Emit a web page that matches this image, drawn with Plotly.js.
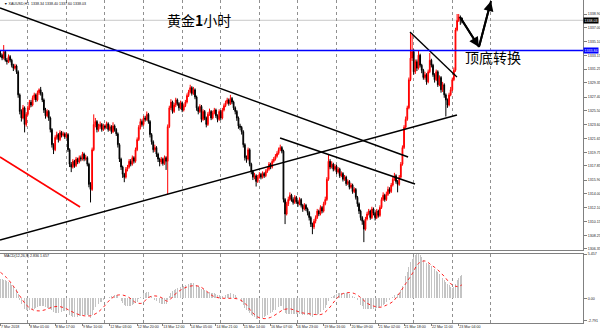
<!DOCTYPE html>
<html><head><meta charset="utf-8">
<script src="https://cdn.plot.ly/plotly-3.0.1.min.js"></script>
<style>html,body{margin:0;padding:0;background:#fff}#chart{width:600px;height:333px}</style>
</head><body><div id="chart"></div>
<script>
// ---- XAUUSD H1 candles (bar 0 = 7 Mar 07:00, one bar per hour) ----
const firstOpen = 1333.5;
const closes = [
1333.2,1332.8,1333.7,1332.5,1332.3,1333.0,1332.5,1331.8,1331.4,1331.7,
1330.9,1327.7,1325.4,1324.5,1325.9,1323.6,1325.0,1325.9,1326.7,1326.3,
1327.3,1327.7,1327.0,1328.0,1328.4,1327.9,1327.0,1325.6,1324.8,1325.4,
1324.5,1322.9,1320.8,1320.1,1321.8,1322.2,1321.5,1322.5,1322.1,1322.3,
1321.9,1322.2,1320.1,1318.1,1317.7,1318.5,1317.9,1318.8,1318.4,1319.0,
1318.8,1319.5,1318.8,1319.0,1318.1,1315.3,1314.6,1320.1,1323.6,1324.0,
1322.9,1323.3,1323.6,1322.9,1323.4,1323.2,1323.7,1322.9,1323.3,1322.6,
1323.4,1322.9,1322.3,1320.8,1318.8,1317.7,1316.7,1316.3,1317.4,1317.7,
1318.5,1318.1,1319.0,1318.5,1320.1,1321.5,1323.2,1324.0,1323.6,1324.5,
1324.3,1325.0,1324.0,1322.2,1321.2,1320.1,1320.4,1319.5,1318.8,1318.4,
1318.8,1318.2,1319.0,1318.5,1323.3,1325.9,1326.7,1325.4,1326.3,1327.0,
1326.5,1325.9,1326.6,1325.6,1326.2,1326.7,1327.6,1328.1,1328.7,1327.9,
1328.4,1327.4,1325.9,1325.4,1326.1,1324.3,1325.4,1324.5,1323.6,1325.0,
1325.4,1324.5,1325.2,1325.6,1324.8,1324.3,1325.4,1324.5,1325.6,1326.2,
1326.6,1327.0,1326.5,1327.2,1326.7,1325.9,1325.4,1324.5,1323.4,1323.2,
1322.6,1320.8,1319.0,1318.8,1320.1,1318.1,1317.1,1316.3,1316.5,1315.7,
1316.3,1316.7,1316.3,1316.8,1316.5,1317.1,1317.4,1318.1,1317.7,1318.5,
1318.8,1319.2,1319.6,1320.1,1320.4,1319.9,1313.2,1311.2,1312.6,1313.2,
1313.8,1313.2,1312.8,1313.5,1312.9,1312.6,1313.2,1312.4,1311.9,1312.4,
1311.9,1311.4,1310.7,1309.8,1309.4,1310.2,1310.7,1311.6,1311.2,1312.1,
1311.6,1312.6,1313.2,1316.0,1318.5,1317.7,1318.1,1317.4,1317.8,1317.0,
1317.4,1316.5,1316.8,1316.0,1316.3,1315.4,1315.7,1314.9,1315.2,1314.3,
1314.6,1313.5,1312.6,1311.6,1310.7,1310.2,1309.1,1310.5,1311.2,1311.6,
1310.7,1311.9,1311.3,1310.7,1311.6,1311.0,1312.1,1313.2,1313.8,1313.2,
1313.9,1314.6,1314.3,1315.2,1316.0,1316.5,1315.7,1315.3,1316.3,1318.1,
1320.4,1323.2,1324.3,1325.9,1329.8,1332.8,1333.7,1330.9,1332.3,1331.4,
1333.2,1331.8,1331.1,1330.1,1330.5,1329.5,1330.9,1332.5,1331.8,1330.5,
1329.8,1330.9,1329.1,1330.1,1328.4,1329.1,1327.7,1327.0,1326.3,1327.7,
1328.4,1329.8,1331.1,1336.7,1338.0,1338.5,1338.34,1338.03];
const highs = [
1333.9,1333.4,1334.6,1333.9,1332.8,1333.3,1333.2,1332.7,1332.0,1332.0,
1331.9,1331.1,1327.9,1325.7,1326.3,1326.1,1325.3,1326.2,1327.0,1327.0,
1327.6,1328.0,1327.9,1328.3,1328.6,1328.8,1328.1,1327.2,1325.9,1325.7,
1325.6,1324.7,1323.1,1321.0,1322.1,1322.6,1322.4,1322.8,1322.7,1322.6,
1322.5,1322.5,1322.4,1320.3,1318.4,1318.8,1318.7,1319.1,1319.0,1319.3,
1319.3,1319.8,1319.7,1319.4,1319.2,1318.3,1315.6,1320.4,1325.0,1324.5,
1324.2,1323.7,1324.0,1323.8,1323.7,1323.6,1324.0,1323.9,1323.6,1323.5,
1323.9,1323.6,1323.1,1322.5,1321.0,1319.0,1317.9,1316.9,1317.7,1318.0,
1318.8,1318.8,1319.3,1319.2,1320.4,1321.8,1323.5,1324.4,1324.3,1324.8,
1324.8,1325.4,1325.2,1324.2,1322.4,1321.4,1320.8,1320.6,1319.7,1319.0,
1319.1,1319.0,1319.3,1319.2,1323.6,1326.2,1327.1,1326.9,1326.6,1327.3,
1327.2,1326.7,1326.9,1326.8,1326.5,1327.0,1327.9,1328.4,1329.1,1328.9,
1328.8,1328.6,1327.6,1326.1,1326.4,1326.3,1325.7,1325.6,1324.7,1325.3,
1325.8,1325.6,1325.5,1325.9,1325.8,1325.0,1325.7,1325.6,1325.9,1326.5,
1326.9,1327.3,1327.2,1327.7,1327.4,1326.9,1326.1,1325.6,1324.7,1323.7,
1323.4,1322.8,1321.0,1319.3,1320.4,1320.3,1318.3,1317.3,1316.9,1316.7,
1316.6,1317.0,1316.9,1317.1,1317.0,1317.4,1317.7,1318.4,1318.3,1318.8,
1319.1,1319.5,1319.9,1320.4,1320.8,1320.6,1320.1,1313.4,1312.9,1313.6,
1314.2,1314.0,1313.5,1313.8,1313.7,1313.1,1313.5,1313.4,1312.6,1312.7,
1312.6,1312.1,1311.6,1310.9,1310.0,1310.5,1311.0,1311.9,1311.8,1312.4,
1312.3,1312.9,1313.6,1316.3,1319.5,1318.8,1318.5,1318.3,1318.1,1318.0,
1317.7,1317.6,1317.1,1317.0,1316.6,1316.5,1316.0,1315.9,1315.5,1315.4,
1314.9,1314.8,1313.7,1312.8,1311.8,1310.9,1310.4,1310.8,1311.5,1311.9,
1311.8,1312.2,1312.1,1311.5,1311.9,1311.8,1312.4,1313.5,1314.2,1314.0,
1314.3,1315.0,1314.9,1315.5,1316.4,1316.9,1316.7,1315.9,1316.6,1318.4,
1320.7,1323.5,1324.7,1326.2,1330.1,1336.3,1336.0,1334.0,1332.6,1332.6,
1333.9,1333.4,1332.0,1331.3,1330.9,1330.7,1331.2,1333.5,1332.7,1332.0,
1330.7,1331.2,1331.1,1330.4,1330.3,1329.5,1329.3,1327.9,1327.2,1328.0,
1328.8,1330.1,1331.5,1337.0,1338.9,1338.9,1338.7,1338.40];
const lows = [
1332.9,1332.5,1332.6,1332.3,1331.9,1332.1,1332.2,1331.5,1331.0,1331.2,
1330.6,1327.3,1325.0,1324.0,1324.3,1322.5,1323.3,1324.8,1325.6,1326.0,
1326.1,1327.0,1326.7,1326.8,1327.7,1327.6,1326.7,1325.2,1324.4,1324.6,
1324.1,1322.5,1320.4,1319.5,1319.9,1321.5,1321.1,1321.3,1321.8,1321.9,
1321.6,1321.7,1319.8,1317.7,1317.0,1317.5,1317.6,1317.7,1318.1,1318.2,
1318.5,1318.6,1318.5,1318.6,1317.8,1314.9,1312.8,1314.4,1319.9,1323.2,
1322.5,1322.6,1323.0,1322.6,1322.7,1322.9,1323.0,1322.6,1322.7,1322.3,
1322.4,1322.6,1322.0,1320.4,1318.4,1317.3,1316.2,1315.6,1316.1,1317.1,
1317.5,1317.8,1317.9,1318.2,1318.3,1319.9,1321.3,1322.9,1323.3,1323.4,
1324.0,1324.1,1323.7,1321.8,1320.8,1319.7,1319.8,1319.1,1318.4,1317.8,
1318.1,1317.9,1318.0,1317.3,1313.9,1323.1,1325.6,1325.1,1325.2,1326.0,
1326.2,1325.5,1325.7,1325.3,1325.4,1326.0,1326.5,1327.4,1327.9,1327.6,
1327.7,1327.1,1325.5,1325.0,1325.2,1323.9,1324.1,1324.2,1323.2,1323.4,
1324.8,1324.2,1324.3,1325.0,1324.5,1323.9,1324.1,1324.2,1324.3,1325.4,
1326.0,1326.4,1326.2,1326.3,1326.4,1325.6,1325.0,1324.1,1323.0,1322.8,
1322.2,1320.4,1318.6,1318.3,1318.6,1317.8,1316.7,1315.9,1316.0,1315.0,
1315.5,1316.1,1316.0,1316.1,1316.2,1316.3,1316.9,1317.2,1317.4,1317.5,
1318.3,1318.6,1319.0,1319.4,1319.9,1319.6,1312.8,1309.8,1311.0,1312.3,
1313.0,1312.9,1312.5,1312.6,1312.6,1312.2,1312.4,1312.1,1311.5,1311.7,
1311.6,1311.0,1310.3,1309.4,1308.4,1309.1,1309.9,1310.5,1310.9,1311.0,
1311.3,1311.4,1312.4,1313.0,1315.8,1317.4,1317.5,1317.1,1317.2,1316.7,
1316.8,1316.2,1316.3,1315.7,1315.8,1315.1,1315.2,1314.6,1314.7,1314.0,
1314.1,1313.2,1312.2,1311.2,1310.3,1309.7,1307.3,1308.9,1310.3,1311.0,
1310.4,1310.5,1311.0,1310.3,1310.5,1310.7,1310.8,1311.9,1313.0,1312.9,
1313.0,1313.7,1314.0,1314.1,1315.0,1315.8,1315.4,1314.2,1315.1,1316.1,
1317.9,1320.2,1323.0,1324.1,1325.7,1329.6,1332.4,1330.5,1330.6,1331.0,
1331.2,1331.5,1330.7,1329.8,1329.8,1329.1,1329.3,1330.7,1331.5,1330.2,
1329.4,1329.6,1328.8,1328.9,1328.0,1328.1,1327.3,1324.7,1325.9,1326.1,
1327.5,1328.2,1329.6,1330.9,1336.5,1337.8,1337.4,1337.60];

// ---- MACD(12,26,9): main (histogram) per bar, signal read every 4 bars ----
const macdMain = [
2.4,2.4,2.3,2.3,2.1,2.0,1.9,1.7,1.5,1.3,
1.1,0.5,-0.2,-0.7,-1.0,-1.3,-1.4,-1.5,-1.5,-1.5,
-1.4,-1.3,-1.2,-1.1,-1.0,-0.9,-0.9,-1.0,-1.1,-1.2,
-1.2,-1.3,-1.5,-1.7,-1.8,-1.8,-1.8,-1.7,-1.7,-1.6,
-1.6,-1.6,-1.8,-2.0,-2.2,-2.3,-2.3,-2.3,-2.3,-2.2,
-2.2,-2.1,-2.0,-2.0,-2.0,-2.2,-2.4,-2.0,-1.5,-1.1,
-0.9,-0.7,-0.5,-0.4,-0.2,-0.1,0.0,0.1,0.2,0.3,
0.4,0.4,0.4,0.3,0.0,-0.3,-0.6,-0.8,-0.9,-1.0,
-1.0,-0.9,-0.8,-0.7,-0.6,-0.4,-0.1,0.2,0.4,0.6,
0.7,0.8,0.8,0.6,0.3,0.0,-0.2,-0.3,-0.5,-0.6,
-0.7,-0.7,-0.7,-0.7,-0.2,0.3,0.7,0.9,1.0,1.2,
1.3,1.3,1.4,1.4,1.5,1.6,1.7,1.8,1.9,1.9,
1.9,1.8,1.6,1.5,1.4,1.2,1.1,1.0,0.8,0.8,
0.8,0.7,0.6,0.6,0.5,0.4,0.4,0.3,0.3,0.4,
0.4,0.5,0.5,0.6,0.6,0.5,0.4,0.2,0.0,-0.2,
-0.4,-0.8,-1.2,-1.5,-1.6,-1.8,-2.0,-2.2,-2.3,-2.5,
-2.5,-2.5,-2.5,-2.4,-2.3,-2.2,-2.1,-2.0,-1.8,-1.7,
-1.5,-1.4,-1.3,-1.1,-1.0,-1.0,-1.4,-1.8,-1.9,-1.9,
-1.9,-1.9,-1.9,-1.9,-1.9,-1.9,-1.9,-1.9,-2.0,-2.0,
-2.0,-2.0,-2.1,-2.2,-2.3,-2.2,-2.1,-2.0,-1.9,-1.7,
-1.6,-1.4,-1.2,-0.8,-0.3,0.0,0.2,0.3,0.4,0.5,
0.6,0.6,0.7,0.7,0.7,0.6,0.6,0.5,0.4,0.3,
0.2,0.0,-0.2,-0.5,-0.8,-1.0,-1.3,-1.3,-1.3,-1.3,
-1.3,-1.3,-1.3,-1.3,-1.2,-1.2,-1.1,-1.0,-0.8,-0.7,
-0.5,-0.3,-0.2,0.0,0.2,0.4,0.5,0.5,0.7,1.0,
1.5,2.1,2.7,3.3,3.9,4.5,4.9,5.1,5.3,5.4,
5.457,5.3,5.1,4.7,4.5,4.3,4.2,4.1,4.0,3.8,
3.6,3.4,3.2,3.0,2.8,2.5,2.3,2.0,1.8,1.6,
1.4,1.3,1.4,1.8,2.2,2.5,2.7,2.836];
const signalBars = [0,4,8,12,16,20,24,28,32,36,40,44,48,52,56,60,64,68,72,76,80,84,88,92,96,100,
104,108,112,116,120,124,128,132,136,140,144,148,152,156,160,164,168,172,176,180,184,188,192,196,200,
204,208,212,216,220,224,228,232,236,240,244,248,252,256,260,264,268,272,276,280,284,287];
const signalVals = [3.2,2.5,1.5,0.3,-0.8,-1.4,-1.55,-1.4,-1.1,-1.0,-1.2,-1.6,-1.95,-2.15,-2.15,-1.8,-1.1,-0.2,0.35,0.4,0.1,-0.5,-0.6,0.1,0.3,0.1,
-0.35,0.4,1.0,1.4,1.55,1.45,0.9,0.3,0.05,0.0,0.0,-0.1,-0.6,-1.6,-2.3,-2.5,-2.35,-1.9,-1.4,-1.3,-1.55,-1.8,-1.9,-2.0,-1.95,
-1.3,-0.3,0.5,0.7,0.6,0.1,-0.6,-0.95,-1.1,-0.85,-0.4,0.6,1.8,3.0,4.3,4.6,4.1,3.5,2.7,1.8,1.45,1.657];

// ---- axes: ticks and labels ----
const dayStartBars = [17,41,65,89,113,137,161,185,209,233,257,281,305];
const timeLabelBars = [0,18,34,51,68,85,101,118,134,151,168,184,201,218,235,251,268,285];
const timeLabels = ['7 Mar 2018','8 Mar 01:00','8 Mar 17:00','9 Mar 10:00','12 Mar 03:00','12 Mar 20:00',
'13 Mar 12:00','14 Mar 05:00','14 Mar 21:00','15 Mar 14:00','16 Mar 07:00','16 Mar 23:00',
'19 Mar 16:00','20 Mar 09:00','21 Mar 02:00','21 Mar 18:00','22 Mar 11:00','23 Mar 04:00'];
const priceTicks = [1338.90,1337.00,1335.10,1333.15,1331.25,1329.35,1327.40,1325.50,1323.60,1321.65,
1319.75,1317.85,1315.90,1314.00,1312.10,1310.15,1308.25,1306.35];
const macdTicks = [5.457,0,-2.791];
const macdTickText = ['5.457','0.00','-2.791'];

// ---- drawn objects (bar index, price) ----
const blueLevel = 1333.84;
const trendDownX = [-0.3,253.5], trendDownY = [1339.73,1319.09];
const trendUpX = [-0.3,283.9], trendUpY = [1307.60,1324.91];
const trendMidX = [173.9,257.8], trendMidY = [1321.73,1315.35];
const trendRedX = [-0.3,49.5], trendRedY = [1319.09,1312.17];
const trendTopX = [254.7,283.9], trendTopY = [1336.41,1330.17];
const arrowX = [285.8,297.6,305.1], arrowY = [1338.49,1334.33,1340.70];

const header = '\u25BC XAUUSD,H1  1338.34 1338.40 1337.60 1338.03';
const macdHeader = 'MACD(12,26,9) 2.836 1.657';
const titleText = '黄金<b>1</b>小时';
const noteText = '顶底转换';

const bars = closes.map((_, i) => i);
const opens = closes.map((c, i) => i === 0 ? firstOpen : closes[i - 1]);
const lastClose = closes[closes.length - 1];

const FONT = 'Liberation Sans, Arial, sans-serif';
const CJK = 'Noto Sans CJK SC, sans-serif';
const X_RANGE = [-0.3, 362.3];
const gridAxis = (anchor, extra) => Object.assign({domain:[0,1], anchor, range:X_RANGE, tickmode:'array',
  tickvals:dayStartBars, showticklabels:false, ticks:'', showgrid:true, gridcolor:'#909090', griddash:'dot',
  gridwidth:1, zeroline:false, showline:true, linecolor:'#808080', linewidth:1, fixedrange:true,
  rangeslider:{visible:false}}, extra);

const lineTrace = (x, y, color, w) => ({type:'scatter', mode:'lines', x, y, xaxis:'x', yaxis:'y',
  line:{color, width:w}, hoverinfo:'skip', showlegend:false, cliponaxis:true});

const traces = [
  {type:'candlestick', x:bars, open:opens, high:highs, low:lows, close:closes, xaxis:'x', yaxis:'y',
   increasing:{line:{color:'#ff0000', width:1}, fillcolor:'#ff0000'},
   decreasing:{line:{color:'#000000', width:1}, fillcolor:'#000000'},
   whiskerwidth:0, hoverinfo:'skip', showlegend:false},
  lineTrace(trendDownX, trendDownY, '#000', 1.6),
  lineTrace(trendUpX, trendUpY, '#000', 1.6),
  lineTrace(trendMidX, trendMidY, '#000', 1.6),
  lineTrace(trendTopX, trendTopY, '#000', 1.4),
  lineTrace(trendRedX, trendRedY, '#ff0000', 1.6),
  lineTrace(arrowX.slice(0,2), arrowY.slice(0,2), '#000', 2),
  lineTrace(arrowX.slice(1), arrowY.slice(1), '#000', 2),
  {type:'bar', x:bars, y:macdMain, xaxis:'x2', yaxis:'y2', marker:{color:'#c4c4c4', line:{width:0}},
   width:0.55, hoverinfo:'skip', showlegend:false},
  {type:'scatter', mode:'lines', x:signalBars, y:signalVals, xaxis:'x2', yaxis:'y2',
   line:{color:'#ff2020', width:1, dash:'dot', shape:'spline'}, hoverinfo:'skip', showlegend:false},
  // carrier for the time-label axis (no visible marks)
  {type:'scatter', mode:'markers', x:timeLabelBars, y:timeLabelBars.map(() => 0), xaxis:'x3', yaxis:'y2',
   marker:{opacity:0, size:1}, hoverinfo:'skip', showlegend:false}
];

const layout = {
  width:600, height:333, margin:{l:0, r:17, t:0, b:10},
  paper_bgcolor:'#ffffff', plot_bgcolor:'#ffffff', showlegend:false,
  font:{family:FONT, size:3.6, color:'#222'},
  bargap:0,
  xaxis: gridAxis('y', {}),
  xaxis2: gridAxis('y2', {matches:'x', mirror:true}),
  xaxis3:{domain:[0,1], anchor:'y2', overlaying:'x2', range:X_RANGE, side:'bottom', tickmode:'array',
    tickvals:timeLabelBars, ticktext:timeLabels, ticks:'outside', ticklen:2, tickcolor:'#808080',
    ticklabelposition:'outside right', tickangle:0, tickfont:{family:FONT, size:3.6, color:'#222'},
    showgrid:false, zeroline:false, showline:false, fixedrange:true},
  yaxis:{domain:[0.226,1], anchor:'x', side:'right', range:[1306.21,1340.84], tickmode:'array',
    tickvals:priceTicks, tickformat:'.2f', ticks:'outside', ticklen:3, tickcolor:'#808080',
    tickfont:{family:FONT, size:3.6, color:'#222'}, showgrid:false, zeroline:false,
    showline:true, mirror:true, linecolor:'#808080', linewidth:1, fixedrange:true},
  yaxis2:{domain:[0,0.2136], anchor:'x2', side:'right', range:[-3.04,5.457], tickmode:'array',
    tickvals:macdTicks, ticktext:macdTickText, ticks:'outside', ticklen:3, tickcolor:'#808080',
    tickfont:{family:FONT, size:3.6, color:'#222'}, showgrid:false, zeroline:false,
    showline:true, mirror:true, linecolor:'#808080', linewidth:1, fixedrange:true},
  shapes:[
    {type:'line', xref:'paper', yref:'y', x0:0, x1:1, y0:lastClose, y1:lastClose, line:{color:'#c8c8c8', width:1}, layer:'below'},
    {type:'line', xref:'paper', yref:'y', x0:0, x1:1, y0:blueLevel, y1:blueLevel, line:{color:'#0000ff', width:1.6}}
  ],
  annotations:[
    {xref:'paper', yref:'paper', x:0.004, y:0.988, xanchor:'left', yanchor:'middle', showarrow:false,
     text:header, font:{family:FONT, size:3.6, color:'#111'}},
    {xref:'paper', yref:'paper', x:0.004, y:0.207, xanchor:'left', yanchor:'middle', showarrow:false,
     text:macdHeader, font:{family:FONT, size:3.6, color:'#111'}},
    {xref:'paper', yref:'paper', x:0.341, y:0.938, xanchor:'center', yanchor:'middle', showarrow:false,
     text:titleText, font:{family:CJK, size:14, color:'#000'}},
    {xref:'paper', yref:'paper', x:0.845, y:0.8235, xanchor:'center', yanchor:'middle', showarrow:false,
     text:noteText, font:{family:CJK, size:14, color:'#000'}},
    {xref:'paper', yref:'y', x:1, y:lastClose, xanchor:'left', yanchor:'middle', showarrow:false,
     text:lastClose.toFixed(2), bgcolor:'#000000', borderpad:0.6, font:{family:FONT, size:3.6, color:'#ffffff'}},
    {xref:'paper', yref:'y', x:1, y:blueLevel, xanchor:'left', yanchor:'middle', showarrow:false,
     text:blueLevel.toFixed(2), bgcolor:'#0000ff', borderpad:0.6, font:{family:FONT, size:3.6, color:'#ffffff'}},
    {xref:'x', yref:'y', axref:'x', ayref:'y', x:arrowX[1], y:arrowY[1], ax:arrowX[0], ay:arrowY[0],
     showarrow:true, arrowhead:2, arrowsize:1, arrowwidth:2, arrowcolor:'#000', text:''},
    {xref:'x', yref:'y', axref:'x', ayref:'y', x:arrowX[2], y:arrowY[2], ax:arrowX[1], ay:arrowY[1],
     showarrow:true, arrowhead:2, arrowsize:1, arrowwidth:2, arrowcolor:'#000', text:''}
  ]
};

Plotly.newPlot('chart', traces, layout, {staticPlot:true, displayModeBar:false});
</script>
</body></html>
